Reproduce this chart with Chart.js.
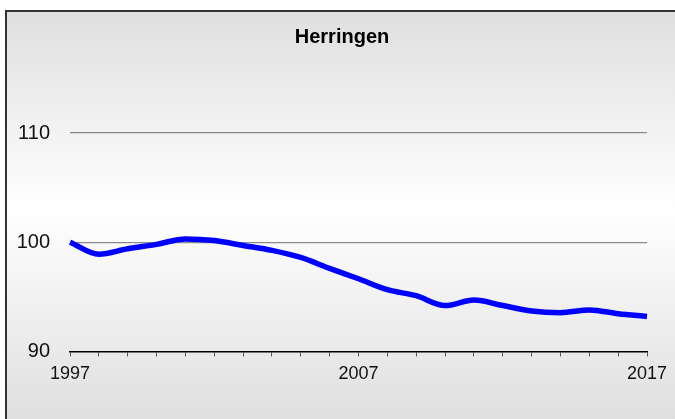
<!DOCTYPE html>
<html>
<head>
<meta charset="utf-8">
<script src="https://cdn.jsdelivr.net/npm/chart.js@4"></script>
<style>
  html, body { margin: 0; padding: 0; background: #fff; overflow: hidden; }
  #wrap { position: relative; width: 675px; height: 419px; overflow: hidden; }
  #fundo {
    position: absolute; left: 5px; top: 10px; width: 670px; height: 409px;
    background: linear-gradient(#dfdfdf 0px, #ffffff 200px, #dfdfdf 409px);
  }
  .linha { position: absolute; background: #333; }
  #grafico { position: absolute; left: 0; top: 0; }
</style>
</head>
<body>
<div id="wrap">
  <div id="fundo"></div>
  <div class="linha" style="left:5px; top:10px; width:680px; height:2px;"></div>
  <div class="linha" style="left:5px; top:10px; width:2px; height:409px;"></div>
  <canvas id="grafico" width="675" height="419"></canvas>
</div>
<script>
const titulo = "Herringen";

const anos = ["1997", "1998", "1999", "2000", "2001", "2002", "2003", "2004", "2005", "2006", "2007",
              "2008", "2009", "2010", "2011", "2012", "2013", "2014", "2015", "2016", "2017"];

const valores = [100.0, 98.9, 99.4, 99.8, 100.3, 100.15, 99.7, 99.25, 98.6, 97.6, 96.65,
                 95.65, 95.1, 94.2, 94.7, 94.2, 93.7, 93.55, 93.8, 93.45, 93.2];

const anosVisiveis = ["1997", "2007", "2017"];

const fonte = "'Liberation Sans', Arial, Helvetica, sans-serif";

/* rotulos do eixo y podem sair da caixa do eixo */
const semCorte = {
  id: "semCorte",
  beforeDraw(chart) {
    chart.scales.y._computeLabelArea = () => undefined;
  }
};

/* GRAFICO */
new Chart(document.getElementById("grafico"), {
  type: "line",
  data: {
    labels: anos,
    datasets: [{
      data: valores,
      borderColor: "#0000ff",
      borderWidth: 5.5,
      pointRadius: 0,
      tension: 0.4,
      cubicInterpolationMode: "monotone",
      clip: false
    }]
  },
  options: {
    responsive: false,
    animation: false,
    layout: { padding: { top: 10, left: 37, right: 28, bottom: 27 } },
    plugins: {
      legend: { display: false },
      tooltip: { enabled: false },
      title: {
        display: true,
        text: titulo,
        color: "#000",
        font: { family: fonte, size: 20, weight: "bold" },
        padding: { top: 15, bottom: 84 }
      }
    },
    scales: {
      x: {
        offset: false,
        border: { display: true, color: "#000", width: 1.5 },
        grid: { drawOnChartArea: false, drawTicks: true, tickLength: 5, tickColor: "#555", tickWidth: 1 },
        ticks: {
          autoSkip: false,
          maxRotation: 0,
          padding: 7,
          color: "#111",
          font: { family: fonte, size: 18 },
          callback: function (v) {
            const a = anos[v];
            return anosVisiveis.includes(a) ? a : "";
          }
        }
      },
      y: {
        min: 90,
        max: 110,
        border: { display: false },
        afterFit: function (s) { s.width = 33; },
        grid: {
          drawTicks: false,
          color: ctx => ctx.tick && ctx.tick.value === 90 ? "rgba(0,0,0,0)" : "#8a8a8a",
          lineWidth: 1.2
        },
        ticks: {
          stepSize: 10,
          padding: 20,
          color: "#111",
          font: { family: fonte, size: 20 }
        }
      }
    }
  },
  plugins: [semCorte]
});
</script>
</body>
</html>
